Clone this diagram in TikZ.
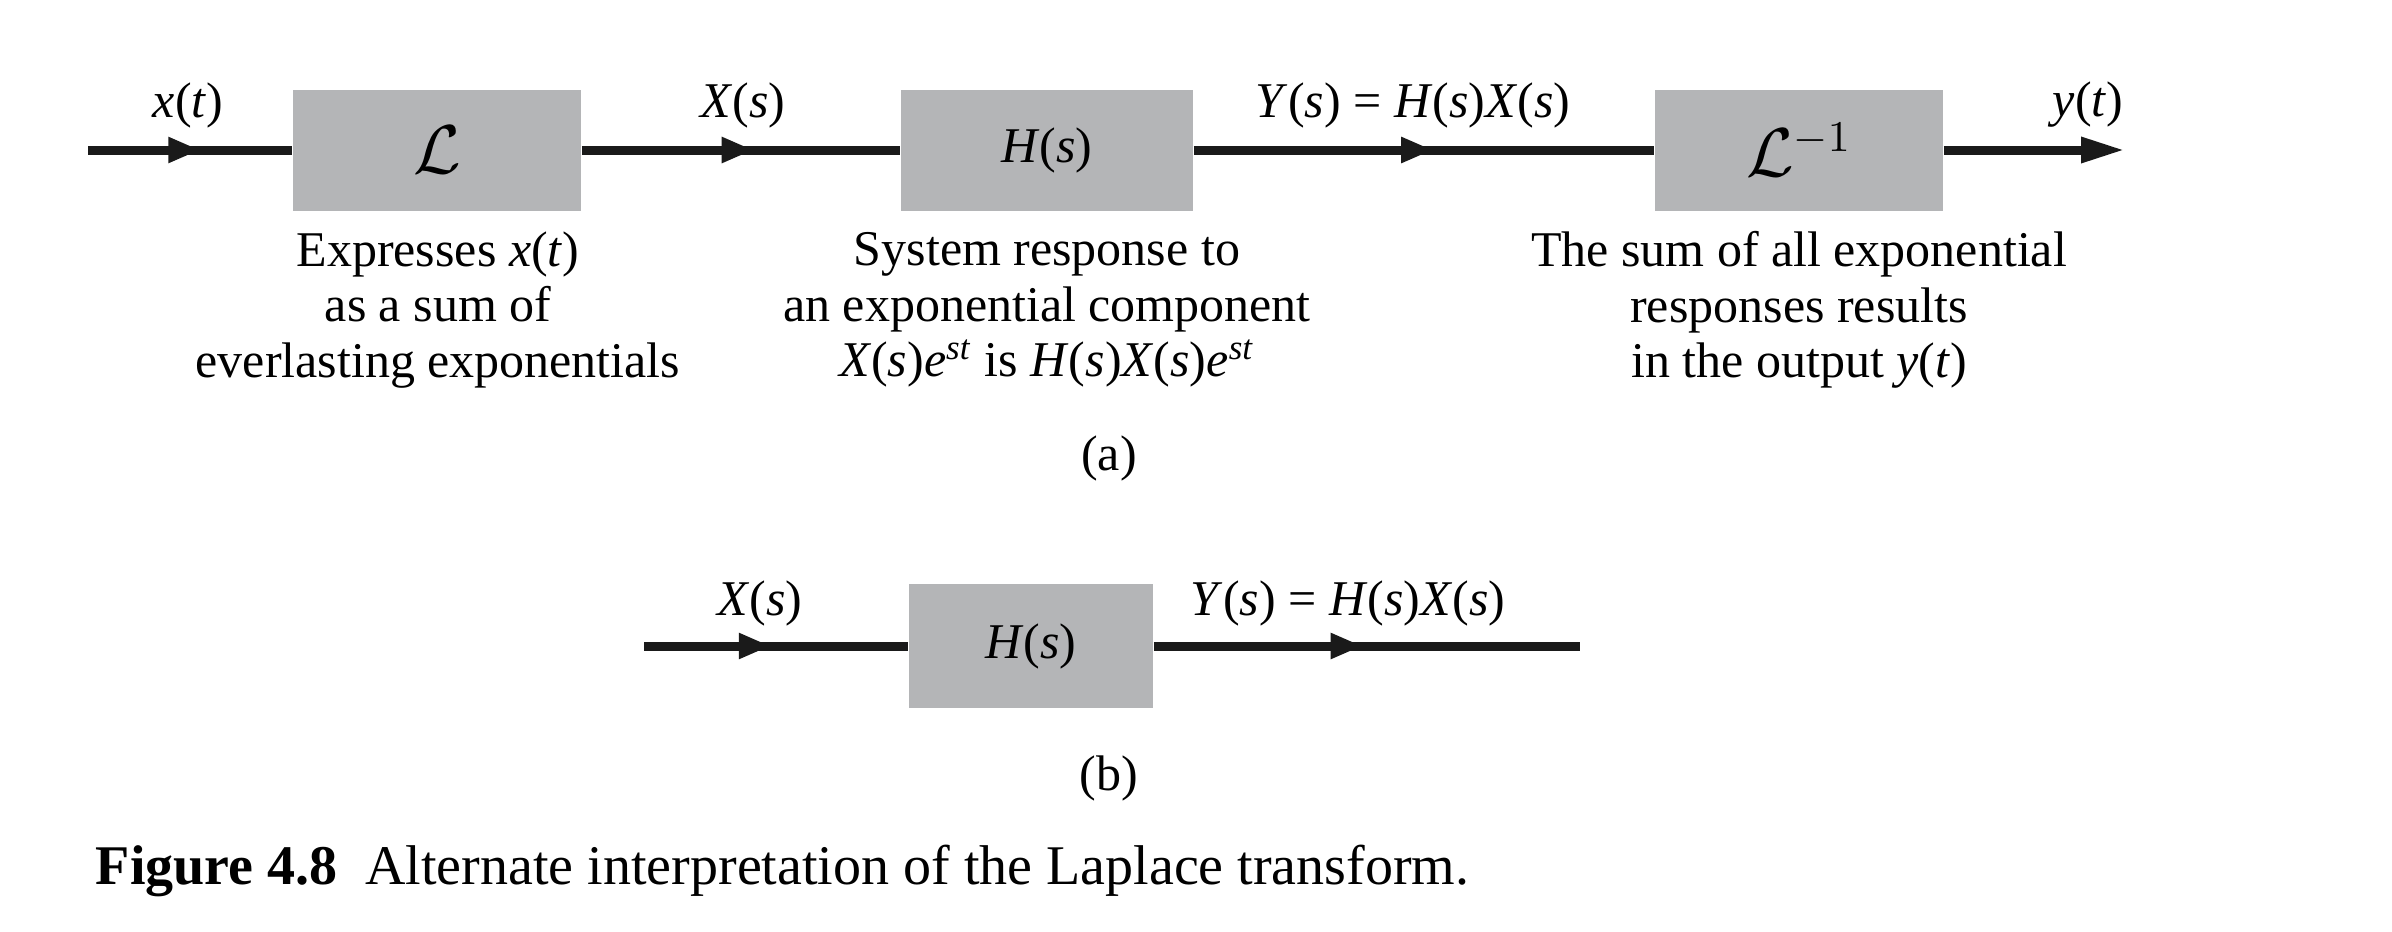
\documentclass[tikz,border=0pt]{standalone}
\usepackage{fontspec}
\setmainfont{Liberation Serif}
\usetikzlibrary{arrows.meta,decorations.markings}
\definecolor{boxgray}{RGB}{180,181,183}
\definecolor{linegray}{RGB}{26,26,26}
\newcommand{\vi}[1]{\textit{#1}}
\begin{document}
\begin{tikzpicture}[x=0.25pt,y=-0.25pt,
  every node/.style={font=\fontsize{12.5}{13.9}\selectfont, inner sep=0pt},
  blockbox/.style={fill=boxgray, minimum width=72pt, minimum height=30.25pt, inner sep=0pt},
  sig/.style={line width=2.25pt, draw=linegray},
  midarrow/.style={postaction={decorate}, decoration={markings,
     mark=at position #1 with {\arrow[linegray]{Triangle[length=8pt,width=6pt]}}}}]
\useasboundingbox (0,0) rectangle (2392,932);
% part (a)
\node[blockbox] (L) at (437,150) {\fontsize{16}{16}\selectfont$\mathcal{L}$};
\node[blockbox, minimum width=73pt] (H) at (1047,150) {\vi{H}(\vi{s})};
\node[blockbox] (Li) at (1799,150) {\fontsize{16}{16}\selectfont$\mathcal{L}^{-1}$};
\coordinate (in) at (88,150);
\coordinate (out) at (2125,150);
\draw[sig, midarrow=0.55] (in) -- (L.west);
\draw[sig, midarrow=0.54] (L.east) -- (H.west);
\draw[sig, midarrow=0.52] (H.east) -- (Li.west);
\draw[sig, -{Triangle[length=11pt,width=6pt]}] (Li.east) -- (out);
\node (lx) at (188,105) {\vi{x}(\vi{t})};
\node (lX) at (743,105) {\vi{X}(\vi{s})};
\node (lY) at (1413,105) {\vi{Y}(\vi{s}) = \vi{H}(\vi{s})\vi{X}(\vi{s})};
\node (ly) at (2088,105) {\vi{y}(\vi{t})};
\node[align=center] (d1) at (438,310) {Expresses \vi{x}(\vi{t})\\as a sum of\\everlasting exponentials};
\node[align=center] (d2) at (1047,310) {System response to\\an exponential component\\\vi{X}(\vi{s})\vi{e}\textsuperscript{\vi{st}} is \vi{H}(\vi{s})\vi{X}(\vi{s})\vi{e}\textsuperscript{\vi{st}}};
\node[align=center] (d3) at (1799,310) {The sum of all exponential\\responses results\\in the output \vi{y}(\vi{t})};
\node (la) at (1109,458) {(a)};
% part (b)
\node[blockbox, minimum width=61pt, minimum height=31pt] (Hb) at (1031,646) {\vi{H}(\vi{s})};
\coordinate (inb) at (644,646);
\coordinate (outb) at (1580,646);
\draw[sig, midarrow=0.48] (inb) -- (Hb.west);
\draw[sig, midarrow=0.49] (Hb.east) -- (outb);
\node (lXb) at (760,603) {\vi{X}(\vi{s})};
\node (lYb) at (1348,603) {\vi{Y}(\vi{s}) = \vi{H}(\vi{s})\vi{X}(\vi{s})};
\node (lb) at (1109,778) {(b)};
% caption
\node[anchor=base west, font=\fontsize{14}{16}\selectfont] (cap) at (95,884) {\textbf{Figure 4.8}\enspace Alternate interpretation of the Laplace transform.};
\end{tikzpicture}
\end{document}
